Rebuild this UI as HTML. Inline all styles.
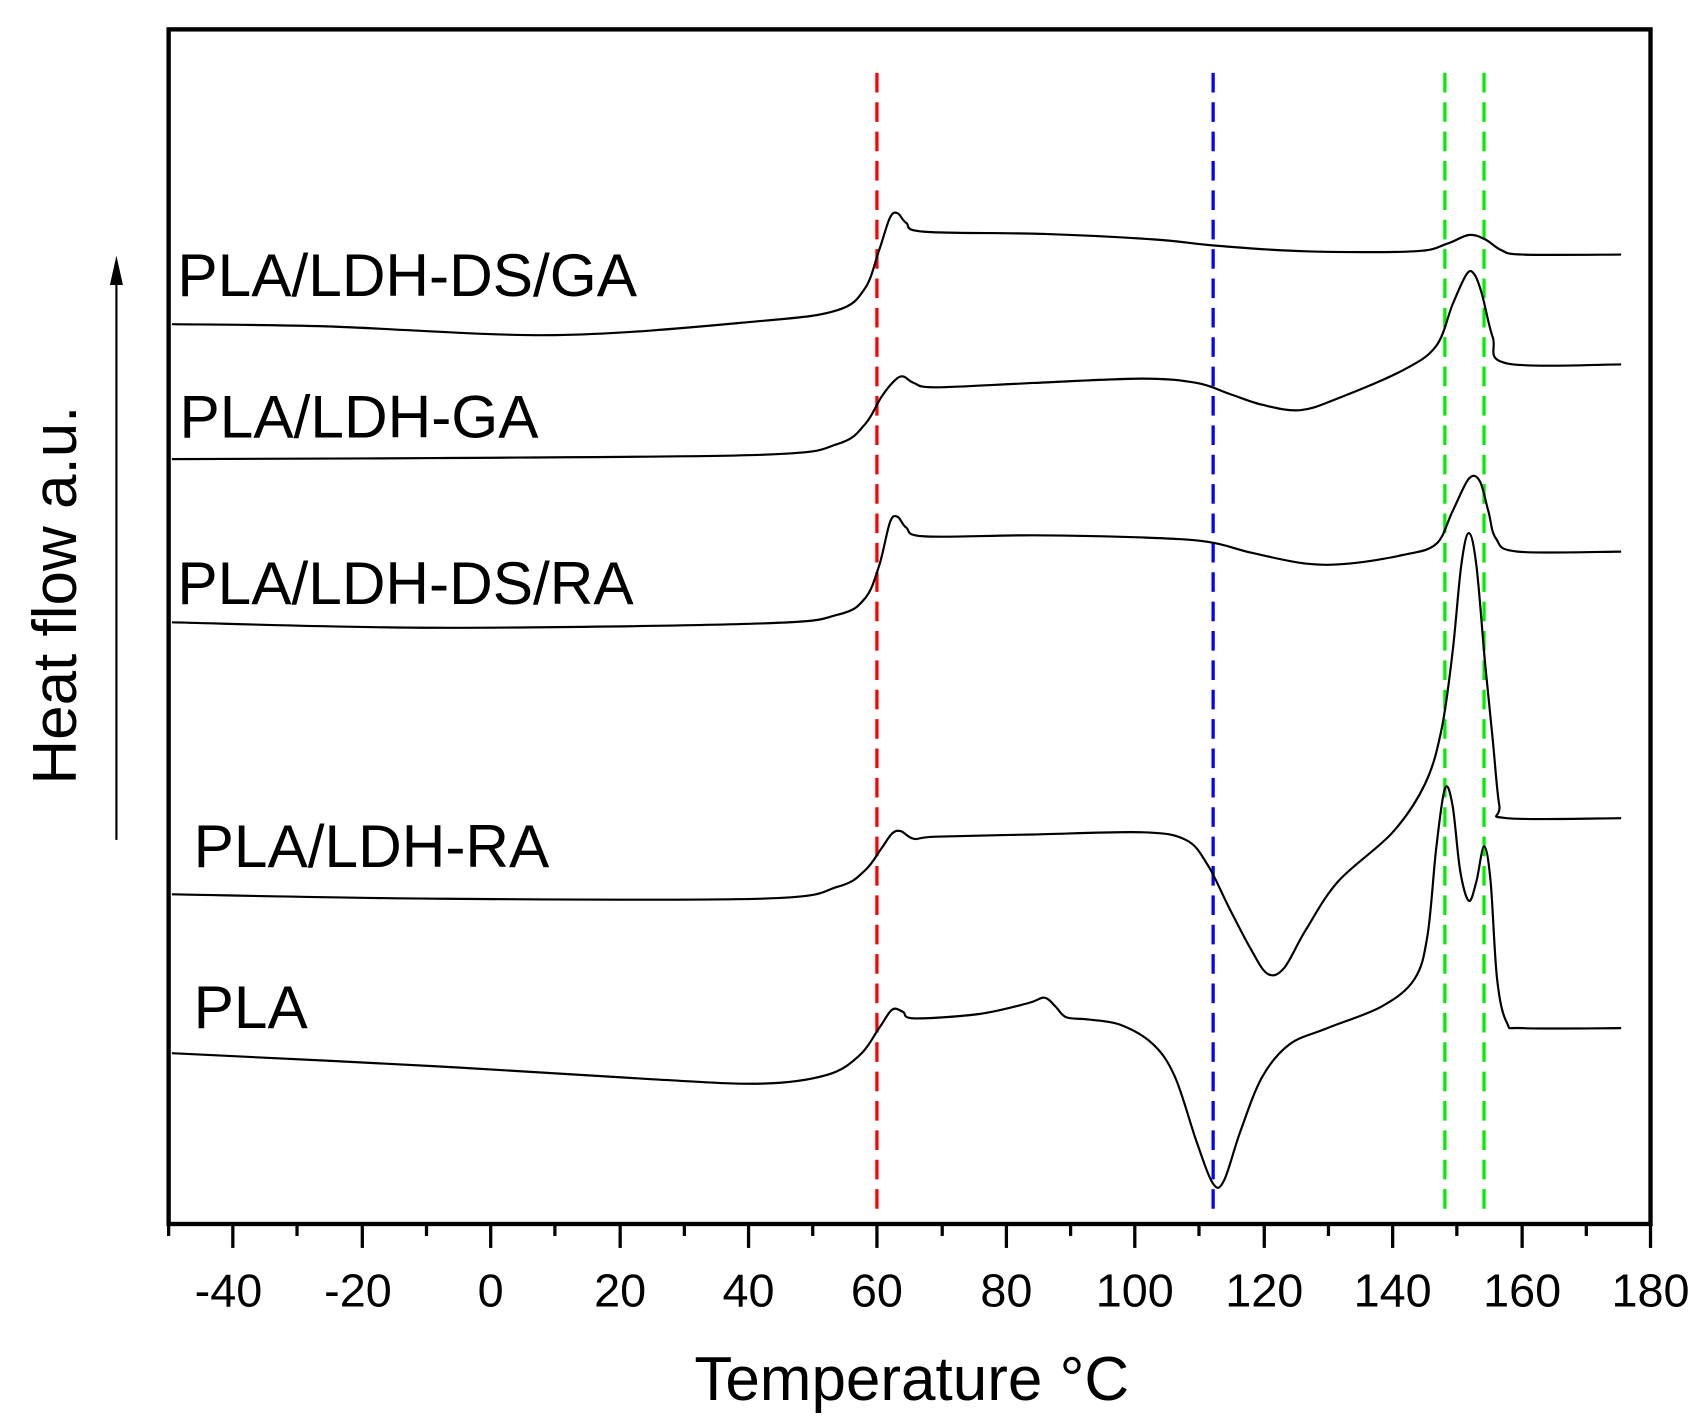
<!DOCTYPE html>
<html><head><meta charset="utf-8"><style>html,body{margin:0;padding:0;background:#fff}svg{display:block}</style></head>
<body>
<svg id="s" width="1706" height="1422" viewBox="0 0 1568 1307" preserveAspectRatio="none" xmlns="http://www.w3.org/2000/svg" font-family="Liberation Sans, Arial, sans-serif">
<rect width="1568" height="1307" fill="#fff"/>
<g stroke-width="3" stroke-dasharray="18,9" fill="none">
<line x1="806" y1="67" x2="806" y2="1118" stroke="#ff0000"/>
<line x1="1115" y1="67" x2="1115" y2="1118" stroke="#0000ff"/>
<line x1="1328" y1="67" x2="1328" y2="1118" stroke="#00ee00"/>
<line x1="1364" y1="67" x2="1364" y2="1118" stroke="#00ee00"/>
</g>
<g id="curves" fill="none" stroke="#000" stroke-width="2" stroke-linejoin="round">
<polyline points="158,298 300,300 510,308 700,295 770,285 795,265 808,230 818,200 825,196 833,205 850,213 960,215 1060,220 1120,226 1200,231 1300,231 1330,224 1350,216 1365,220 1380,230 1400,234 1490,234"/>
<polyline points="158,422 400,421 700,418 770,408 795,390 810,365 822,350 830,346 840,352 860,356 950,352 1050,348 1100,352 1130,362 1160,372 1195,377 1230,366 1290,340 1320,318 1335,280 1348,252 1355,252 1362,270 1372,310 1385,334 1490,335"/>
<polyline points="158,572 400,577 700,573 770,565 795,550 808,520 818,480 825,475 833,485 850,493 950,492 1050,494 1110,498 1150,508 1200,518 1240,518 1290,510 1320,500 1335,470 1350,440 1360,442 1368,470 1375,495 1395,507 1490,507"/>
<polyline points="158,822 400,826 700,826 770,815 795,800 810,780 820,766 828,764 840,771 860,769 950,767 1050,765 1090,772 1110,795 1130,835 1150,873 1165,895 1180,890 1200,855 1230,810 1280,765 1310,720 1325,670 1335,600 1343,520 1350,490 1357,520 1365,610 1372,680 1378,740 1385,752 1490,752"/>
<polyline points="158,968 400,980 600,992 700,996 760,988 790,970 808,945 820,928 830,930 840,936 900,932 945,922 960,917 970,925 980,935 1000,937 1030,942 1060,960 1080,990 1100,1050 1115,1088 1125,1085 1140,1040 1160,990 1185,960 1220,945 1270,925 1300,900 1312,860 1320,780 1328,725 1335,740 1342,800 1350,828 1357,810 1364,778 1370,810 1376,900 1385,940 1400,945 1490,945"/>
</g>
<rect x="155" y="27" width="1362" height="1098" fill="none" stroke="#000" stroke-width="4"/>
<g stroke="#000" stroke-width="3">
<line x1="155" y1="1125" x2="155" y2="1136"/>
<line x1="214" y1="1125" x2="214" y2="1147"/>
<line x1="273" y1="1125" x2="273" y2="1136"/>
<line x1="333" y1="1125" x2="333" y2="1147"/>
<line x1="392" y1="1125" x2="392" y2="1136"/>
<line x1="451" y1="1125" x2="451" y2="1147"/>
<line x1="510" y1="1125" x2="510" y2="1136"/>
<line x1="570" y1="1125" x2="570" y2="1147"/>
<line x1="629" y1="1125" x2="629" y2="1136"/>
<line x1="688" y1="1125" x2="688" y2="1147"/>
<line x1="747" y1="1125" x2="747" y2="1136"/>
<line x1="806" y1="1125" x2="806" y2="1147"/>
<line x1="866" y1="1125" x2="866" y2="1136"/>
<line x1="925" y1="1125" x2="925" y2="1147"/>
<line x1="984" y1="1125" x2="984" y2="1136"/>
<line x1="1043" y1="1125" x2="1043" y2="1147"/>
<line x1="1102" y1="1125" x2="1102" y2="1136"/>
<line x1="1162" y1="1125" x2="1162" y2="1147"/>
<line x1="1221" y1="1125" x2="1221" y2="1136"/>
<line x1="1280" y1="1125" x2="1280" y2="1147"/>
<line x1="1339" y1="1125" x2="1339" y2="1136"/>
<line x1="1399" y1="1125" x2="1399" y2="1147"/>
<line x1="1458" y1="1125" x2="1458" y2="1136"/>
<line x1="1517" y1="1125" x2="1517" y2="1147"/>
</g>
<g font-size="43" text-anchor="middle" fill="#000">
<text x="210" y="1201">-40</text><text x="329" y="1201">-20</text><text x="451" y="1201">0</text>
<text x="570" y="1201">20</text><text x="688" y="1201">40</text><text x="806" y="1201">60</text>
<text x="925" y="1201">80</text><text x="1043" y="1201">100</text><text x="1162" y="1201">120</text>
<text x="1280" y="1201">140</text><text x="1399" y="1201">160</text><text x="1517" y="1201">180</text>
</g>
<text x="838" y="1287" font-size="57" text-anchor="middle">Temperature °C</text>
<text transform="translate(70,547) rotate(-90)" font-size="57" text-anchor="middle">Heat flow a.u.</text>
<line x1="107" y1="772" x2="107" y2="255" stroke="#000" stroke-width="2"/>
<polygon points="107,235 101,262 113,262" fill="#000"/>
<g font-size="55.5" fill="#000">
<text x="163" y="272">PLA/LDH-DS/GA</text>
<text x="165" y="402">PLA/LDH-GA</text>
<text x="163" y="555">PLA/LDH-DS/RA</text>
<text x="178" y="797">PLA/LDH-RA</text>
<text x="178" y="945">PLA</text>
</g>
</svg>
<script>
document.querySelectorAll('#curves polyline').forEach(function(pl){
  var p=pl.getAttribute('points').trim().split(/\s+/).map(function(s){return s.split(',').map(Number);});
  var d='M'+p[0][0]+','+p[0][1];
  for(var i=0;i<p.length-1;i++){
    var p0=p[i-1]||p[i],p1=p[i],p2=p[i+1],p3=p[i+2]||p2,t=6;
    d+=' C'+(p1[0]+(p2[0]-p0[0])/t)+','+(p1[1]+(p2[1]-p0[1])/t)+' '+(p2[0]-(p3[0]-p1[0])/t)+','+(p2[1]-(p3[1]-p1[1])/t)+' '+p2[0]+','+p2[1];
  }
  var path=document.createElementNS('http://www.w3.org/2000/svg','path');
  path.setAttribute('d',d);
  pl.parentNode.replaceChild(path,pl);
});
</script>
</body></html>
